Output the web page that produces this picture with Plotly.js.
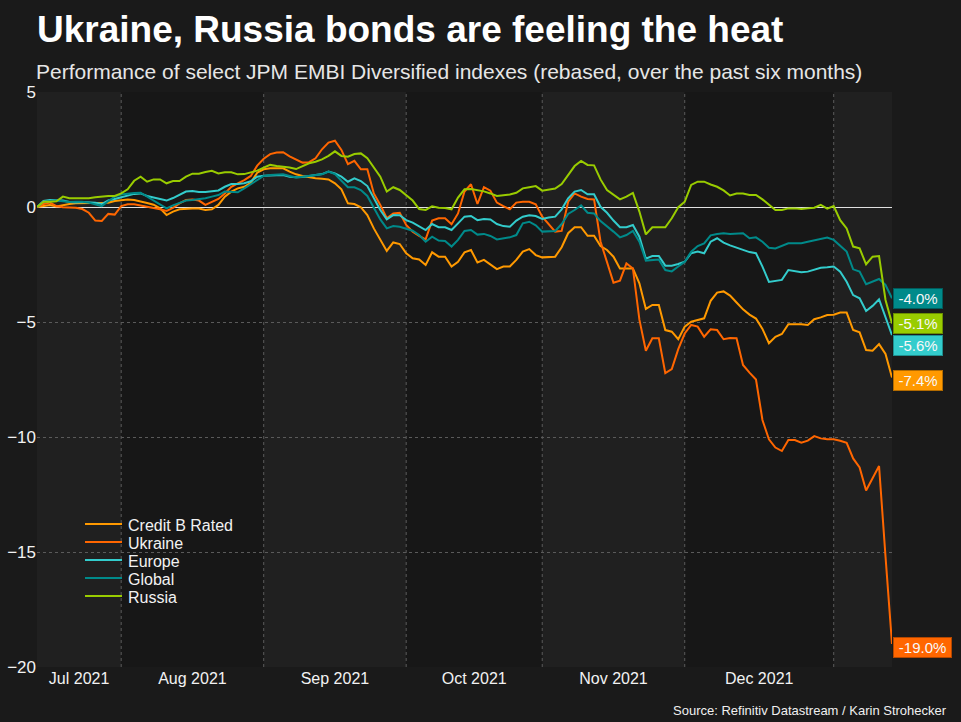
<!DOCTYPE html>
<html>
<head>
<meta charset="utf-8">
<script src="https://cdn.plot.ly/plotly-3.0.1.min.js"></script>
<style>
html,body{margin:0;padding:0;background:#1a1a1a;}
#chart{width:961px;height:722px;}
</style>
</head>
<body>
<div id="chart"></div>
<script>
// ---------- DATA ----------
const startDate = '2021-07-14';   // first business day shown
const nDays = 133;                // business days Jul 14 2021 .. Jan 14 2022

const seriesNames  = ['Credit B Rated', 'Ukraine', 'Europe', 'Global', 'Russia'];
const seriesColors = ['#ff9900', '#ff6600', '#33cccc', '#008a8a', '#99cc00'];

const creditB = [0,0.05,0.09,0.02,0.09,0.13,0.16,0.16,0.18,0.19,
0.19,0.19,0.26,0.30,0.33,0.30,0.25,0.17,0.10,-0.06,
-0.35,-0.20,-0.10,-0.07,-0.07,-0.07,-0.13,-0.10,0.09,0.45,
0.67,0.81,0.88,1.05,1.49,1.64,1.68,1.68,1.68,1.54,
1.42,1.35,1.29,1.25,1.23,1.20,1.03,0.77,0.16,0.13,
-0.01,-0.35,-0.93,-1.43,-1.91,-1.54,-1.61,-2.01,-2.23,-2.28,
-2.52,-1.97,-2.16,-2.16,-2.59,-2.38,-1.97,-1.87,-2.41,-2.30,
-2.52,-2.70,-2.59,-2.59,-2.30,-1.94,-1.83,-2.09,-2.19,-2.16,
-2.16,-1.75,-1.14,-0.88,-0.88,-1.25,-1.25,-1.70,-1.87,-2.16,
-2.67,-2.67,-2.67,-3.32,-4.43,-4.26,-4.26,-5.35,-5.42,-5.75,
-5.20,-4.99,-4.90,-4.84,-4.08,-3.72,-3.67,-3.85,-4.15,-4.45,
-4.68,-4.85,-5.30,-5.92,-5.64,-5.52,-5.10,-5.09,-5.10,-5.13,
-4.88,-4.80,-4.70,-4.68,-4.59,-4.59,-5.35,-5.45,-6.22,-6.25,
-5.96,-6.39,-7.41];

const ukraine = [0,0.13,0.19,0.04,-0.01,-0.03,-0.03,-0.09,-0.25,-0.59,
-0.61,-0.30,-0.33,0.04,0.12,0.12,0.07,0.01,-0.04,-0.10,
-0.17,-0.04,0.16,0.30,0.33,0.28,0.09,0.23,0.35,0.59,
0.88,1.03,1.17,1.35,1.80,2.10,2.30,2.37,2.38,2.20,
2.05,1.93,1.95,2.12,2.51,2.80,2.88,2.48,1.86,2.01,
1.64,1.64,0.59,0.09,-0.49,-0.28,-0.25,-0.78,-1.07,-1.26,
-1.41,-0.59,-0.49,-0.49,-0.75,-0.28,0.67,0.99,0.13,0.86,
0.71,0.19,0.04,-0.10,0.19,0.23,0.23,0.12,-0.42,-0.74,
-1.07,-1.04,0.23,0.59,0.45,0.35,0.33,-1.50,-2.45,-3.29,
-3.20,-2.45,-2.67,-4.90,-6.25,-5.71,-5.71,-7.22,-7.05,-6.18,
-5.50,-5.13,-5.20,-5.64,-5.32,-5.35,-5.75,-5.70,-5.71,-6.87,
-7.20,-7.50,-9.26,-10.10,-10.46,-10.61,-10.13,-10.13,-10.25,-10.16,
-9.96,-10.06,-10.10,-10.10,-10.16,-10.25,-10.93,-11.32,-12.33,-11.80,
-11.26,-15.20,-19.00];

const europe = [0,0.26,0.30,0.30,0.28,0.22,0.20,0.22,0.22,0.19,
0.13,0.28,0.35,0.42,0.51,0.57,0.59,0.48,0.41,0.35,
0.28,0.39,0.52,0.67,0.70,0.65,0.65,0.70,0.72,0.88,
1.00,1.00,1.03,1.12,1.32,1.36,1.38,1.39,1.39,1.32,
1.29,1.30,1.35,1.41,1.43,1.54,1.46,1.32,1.10,1.25,
1.13,0.91,0.38,-0.13,-0.54,-0.35,-0.36,-0.57,-0.68,-0.83,
-1.00,-0.74,-0.88,-0.88,-1.00,-0.71,-0.42,-0.39,-0.57,-0.52,
-0.54,-0.74,-0.83,-0.86,-0.59,-0.42,-0.36,-0.39,-0.52,-0.46,
-0.42,-0.10,0.38,0.67,0.74,0.55,0.55,0.01,-0.25,-0.59,
-0.88,-0.88,-0.78,-1.29,-2.25,-2.13,-2.13,-2.55,-2.55,-2.48,
-2.38,-2.01,-1.94,-2.01,-1.51,-1.36,-1.55,-1.67,-1.77,-1.88,
-1.96,-2.01,-2.59,-3.26,-3.23,-3.17,-2.74,-2.78,-2.84,-2.81,
-2.71,-2.64,-2.62,-2.59,-2.81,-3.25,-3.83,-3.97,-4.52,-4.30,
-4.01,-4.77,-5.57];

const globalIdx = [0,0.23,0.26,0.28,0.25,0.22,0.23,0.23,0.19,0.13,
0.04,0.25,0.45,0.54,0.59,0.61,0.62,0.45,0.30,0.13,
-0.06,0.07,0.19,0.28,0.30,0.33,0.38,0.45,0.52,0.67,
0.64,0.64,0.81,1.00,1.17,1.35,1.39,1.42,1.42,1.35,
1.28,1.32,1.35,1.39,1.42,1.54,1.43,1.14,0.86,0.86,
0.74,0.48,-0.06,-0.54,-0.93,-0.83,-0.86,-0.94,-1.03,-1.22,
-1.51,-1.29,-1.46,-1.48,-1.72,-1.43,-1.04,-1.00,-1.20,-1.17,
-1.26,-1.41,-1.36,-1.32,-1.22,-0.71,-0.64,-0.80,-1.07,-1.07,
-1.04,-0.74,-0.30,-0.13,0.07,-0.25,-0.28,-0.61,-0.83,-1.07,
-1.32,-1.22,-1.04,-1.51,-2.33,-2.30,-2.28,-2.74,-2.80,-2.59,
-2.38,-1.94,-1.70,-1.58,-1.23,-1.17,-1.14,-1.17,-1.17,-1.14,
-1.36,-1.32,-1.51,-1.77,-1.80,-1.70,-1.58,-1.58,-1.58,-1.51,
-1.46,-1.41,-1.33,-1.43,-1.70,-1.94,-2.71,-2.81,-3.36,-3.25,
-3.13,-3.39,-3.97];

const russia = [0,0.23,0.23,0.25,0.45,0.38,0.38,0.38,0.38,0.42,
0.46,0.48,0.48,0.59,0.77,1.14,1.32,1.10,1.20,1.20,
1.03,1.13,1.13,1.32,1.45,1.45,1.52,1.57,1.46,1.51,
1.51,1.42,1.43,1.51,1.58,1.71,1.83,1.78,1.75,1.72,
1.65,1.78,1.90,1.97,2.07,2.22,2.42,2.22,2.19,2.30,
2.33,2.12,1.72,1.32,0.67,0.86,0.74,0.52,0.28,-0.09,
-0.13,0.03,-0.03,-0.04,-0.10,0.41,0.77,0.78,0.74,0.68,
0.59,0.48,0.51,0.54,0.62,0.81,0.86,0.91,0.71,0.74,
0.80,1.00,1.39,1.78,2.00,1.83,1.81,1.20,0.74,0.55,
0.33,0.45,0.61,-0.20,-1.19,-0.88,-0.88,-0.88,-0.49,-0.01,
0.23,0.96,1.10,1.10,0.98,0.88,0.72,0.50,0.59,0.59,
0.52,0.52,0.33,0.10,-0.13,-0.13,-0.06,-0.06,-0.09,-0.06,
-0.03,0.09,-0.07,0.04,-0.57,-0.93,-1.72,-1.80,-2.49,-2.16,
-2.13,-4.04,-5.06];

const seriesValues = [creditB, ukraine, europe, globalIdx, russia];

// month boundaries (first business day of each month) and axis labels
const monthStarts = ['2021-07-14','2021-08-02','2021-09-01','2021-10-01','2021-11-01','2021-12-01','2022-01-03'];
const tickDates   = ['2021-07-22 12:00','2021-08-17','2021-09-16','2021-10-15 12:00','2021-11-16','2021-12-16 12:00'];
const tickLabels  = ['Jul 2021','Aug 2021','Sep 2021','Oct 2021','Nov 2021','Dec 2021'];
const yTicks      = [5, 0, -5, -10, -15, -20];

const titleText    = 'Ukraine, Russia bonds are feeling the heat';
const subtitleText = 'Performance of select JPM EMBI Diversified indexes (rebased, over the past six months)';
const sourceText   = 'Source: Refinitiv Datastream / Karin Strohecker';

// ---------- STYLE ----------
const FONT = 'Liberation Sans, Arial, sans-serif';
const W = 961, H = 722, L = 37, R = 892, T = 92, B = 667;
const px2x = px => (px - L) / (R - L);
const py2y = py => (B - py) / (B - T);
const labelBorders = ['#b36b00', '#b34700', '#1f8f8f', '#005c5c', '#6b8f00'];
const labelShift   = [-3, -3, -10, 0, 0];
const legendRows   = [524, 542, 560, 578, 596];

// business-day dates
function businessDays(start, n) {
  const out = [];
  const d = new Date(start + 'T00:00:00Z');
  while (out.length < n) {
    const wd = d.getUTCDay();
    if (wd !== 0 && wd !== 6) out.push(d.toISOString().slice(0, 10));
    d.setUTCDate(d.getUTCDate() + 1);
  }
  return out;
}
const dates = businessDays(startDate, nDays);
const lastDate = dates[dates.length - 1];

// ---------- TRACES ----------
const traces = seriesNames.map((name, k) => ({
  type: 'scatter', mode: 'lines', name: name,
  x: dates, y: seriesValues[k],
  line: {color: seriesColors[k], width: 2},
  showlegend: false, hoverinfo: 'skip'
}));

// ---------- SHAPES ----------
const shapes = [];
const bounds = monthStarts.concat([lastDate]);
for (let k = 0; k < bounds.length - 1; k++) {
  shapes.push({type: 'rect', layer: 'below', xref: 'x', yref: 'paper',
    x0: bounds[k], x1: bounds[k + 1], y0: 0, y1: 1,
    fillcolor: (k % 2 === 0) ? '#202020' : '#171717', line: {width: 0}});
}
for (let k = 1; k < monthStarts.length; k++) {
  shapes.push({type: 'line', layer: 'below', xref: 'x', yref: 'paper',
    x0: monthStarts[k], x1: monthStarts[k], y0: 0, y1: 1,
    line: {color: '#5a5a5a', width: 1, dash: '3px,3px'}});
}
// legend samples
seriesNames.forEach((name, k) => {
  shapes.push({type: 'line', xref: 'paper', yref: 'paper',
    x0: px2x(85), x1: px2x(122), y0: py2y(legendRows[k]), y1: py2y(legendRows[k]),
    line: {color: seriesColors[k], width: 2}});
});

// ---------- ANNOTATIONS ----------
const annotations = [];
annotations.push({xref: 'paper', yref: 'paper', x: px2x(37), y: py2y(72),
  xanchor: 'left', yanchor: 'middle', xshift: -3, showarrow: false, text: subtitleText,
  font: {family: FONT, size: 21, color: '#e6e6e6'}});
annotations.push({xref: 'paper', yref: 'paper', x: px2x(949), y: py2y(710),
  xanchor: 'right', yanchor: 'middle', showarrow: false, text: sourceText,
  font: {family: FONT, size: 13, color: '#f0f0f0'}});
seriesNames.forEach((name, k) => {
  annotations.push({xref: 'paper', yref: 'paper', x: px2x(126), y: py2y(legendRows[k] + 1),
    xanchor: 'left', yanchor: 'middle', showarrow: false, text: name,
    font: {family: FONT, size: 16, color: '#f2f2f2'}});
  const v = seriesValues[k][seriesValues[k].length - 1];
  const txt = v.toFixed(1) + '%';
  annotations.push({xref: 'x', yref: 'y', x: lastDate, y: v,
    xanchor: 'left', yanchor: 'middle', xshift: 1, yshift: labelShift[k],
    showarrow: false, text: txt, align: 'center', width: txt.length * 9.2,
    bgcolor: seriesColors[k], bordercolor: labelBorders[k], borderwidth: 1, borderpad: 1,
    font: {family: FONT, size: 15, color: '#f8f8f8'}});
});

// ---------- LAYOUT ----------
const layout = {
  width: W, height: H,
  margin: {l: L, r: W - R, t: T, b: H - B, pad: 0},
  paper_bgcolor: '#1a1a1a', plot_bgcolor: '#1a1a1a',
  font: {family: FONT, color: '#f2f2f2'},
  showlegend: false,
  title: {text: '<b>' + titleText + '</b>', xref: 'container', yref: 'container',
    x: L / W, xanchor: 'left', y: 1 - 29 / H, yanchor: 'middle',
    font: {family: FONT, size: 37, color: '#ffffff'}},
  xaxis: {type: 'date', range: [dates[0], lastDate],
    rangebreaks: [{bounds: ['sat', 'mon']}],
    tickmode: 'array', tickvals: tickDates, ticktext: tickLabels,
    showgrid: false, zeroline: false, showline: false, ticks: '',
    tickfont: {family: FONT, size: 16, color: '#f2f2f2'}},
  yaxis: {range: [-20, 5], tickmode: 'array', tickvals: yTicks,
    showgrid: true, gridcolor: '#5a5a5a', griddash: '3px,3px', gridwidth: 1,
    zeroline: true, zerolinecolor: '#e0e0e0', zerolinewidth: 1,
    showline: false, ticks: '',
    tickfont: {family: FONT, size: 17, color: '#f2f2f2'}},
  shapes: shapes,
  annotations: annotations
};

Plotly.newPlot('chart', traces, layout, {staticPlot: true, displayModeBar: false});
</script>
</body>
</html>
